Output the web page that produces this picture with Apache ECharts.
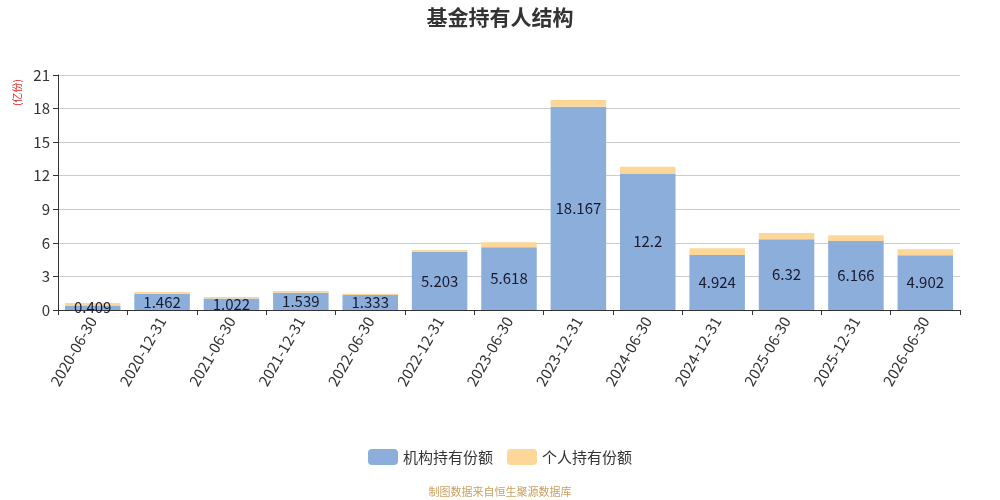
<!DOCTYPE html>
<html>
<head>
<meta charset="utf-8">
<script src="https://cdn.jsdelivr.net/npm/echarts@6/dist/echarts.min.js"></script>
<style>
  html, body { margin: 0; padding: 0; background: #fff; }
  #main { width: 1000px; height: 500px; }
</style>
</head>
<body>
<div id="main"></div>
<script>
// 报告期
var dates = ['2020-06-30', '2020-12-31', '2021-06-30', '2021-12-31', '2022-06-30', '2022-12-31',
    '2023-06-30', '2023-12-31', '2024-06-30', '2024-12-31', '2025-06-30', '2025-12-31', '2026-06-30'];
// 机构持有份额(亿份)
var institution = [0.409, 1.462, 1.022, 1.539, 1.333, 5.203, 5.618, 18.167, 12.2, 4.924, 6.32, 6.166, 4.902];
// 个人持有份额(亿份)
var personal = [0.22, 0.15, 0.14, 0.16, 0.13, 0.16, 0.43, 0.6, 0.61, 0.59, 0.56, 0.51, 0.52];
var seriesNames = ['机构持有份额', '个人持有份额'];

var font = '"Noto Sans CJK SC", "Microsoft YaHei", sans-serif';
var chart = echarts.init(document.getElementById('main'));

var option = {
    backgroundColor: '#fff',
    textStyle: { fontFamily: font },
    title: {
        text: '基金持有人结构',
        left: 'center',
        top: 2,
        textStyle: { fontSize: 21, fontWeight: 'bold', color: '#333', fontFamily: font }
    },
    legend: {
        data: seriesNames,
        bottom: 30,
        left: 'center',
        itemWidth: 30,
        itemHeight: 16,
        itemGap: 14,
        icon: 'roundRect',
        textStyle: { fontSize: 15, color: '#333', fontFamily: font }
    },
    graphic: [{
        type: 'text',
        left: 'center',
        top: 486,
        style: { text: '制图数据来自恒生聚源数据库', fill: '#c8a060', fontSize: 11, fontFamily: font }
    }, {
        // 纵轴单位
        type: 'text',
        x: 12,
        y: 106,
        rotation: Math.PI / 2,
        style: { text: '(亿份)', fill: '#e02020', fontSize: 10, fontFamily: font }
    }],
    grid: { left: 58, right: 40, top: 75, bottom: 190, containLabel: false },
    xAxis: {
        type: 'category',
        data: dates,
        axisLine: { lineStyle: { color: '#333' } },
        axisTick: { show: true, alignWithLabel: false, length: 5, lineStyle: { color: '#333' } },
        axisLabel: { rotate: 60, fontSize: 15, color: '#333', margin: 8, fontFamily: font, interval: 0 }
    },
    yAxis: {
        type: 'value',
        min: 0,
        max: 21,
        interval: 3,
        axisLine: { show: true, lineStyle: { color: '#333' } },
        axisTick: { show: true, length: 5, lineStyle: { color: '#333' } },
        axisLabel: { fontSize: 15, color: '#333', margin: 8, fontFamily: font },
        splitLine: { lineStyle: { color: '#ccc' } }
    },
    series: [{
        name: seriesNames[0],
        type: 'bar',
        stack: 'total',
        barWidth: '80%',
        data: institution,
        itemStyle: { color: '#8caedb' },
        label: {
            show: true,
            position: 'inside',
            color: '#1a1a2e',
            fontSize: 15,
            fontFamily: font
        }
    }, {
        name: seriesNames[1],
        type: 'bar',
        stack: 'total',
        barWidth: '80%',
        data: personal,
        itemStyle: { color: '#fdd798' }
    }]
};
chart.setOption(option);
</script>
</body>
</html>
